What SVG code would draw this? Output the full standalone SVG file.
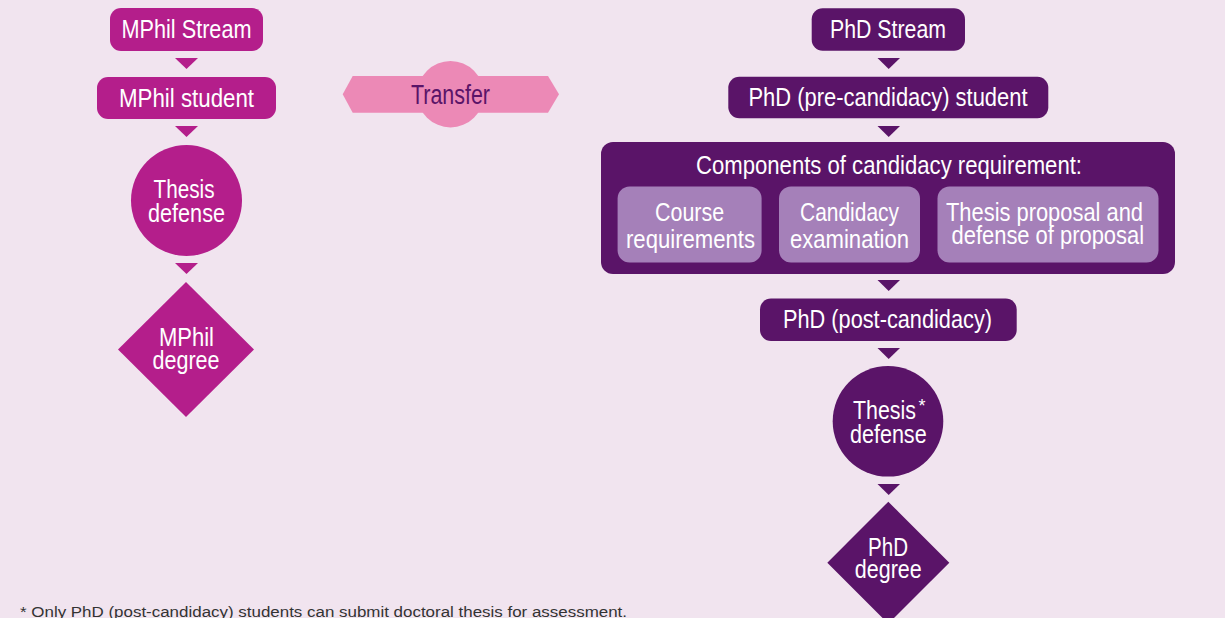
<svg xmlns="http://www.w3.org/2000/svg" width="1225" height="618" viewBox="0 0 1225 618">
  <style>
    .bg { fill: #f1e4ef; }
    .mag { fill: #b41e8b; }
    .pur { fill: #5a1468; }
    .lil { fill: #a580b9; }
    .pink { fill: #ec89b6; }
    text { font-family: "Liberation Sans", Arial, sans-serif; text-anchor: middle; }
    .w { fill: #ffffff; font-size: 25px; }
    .tr { fill: #5a1468; font-size: 27px; }
    .ast { font-size: 18px; }
    .foot { fill: #333333; font-size: 15.5px; text-anchor: start; }
  </style>
  <rect class="bg" x="0" y="0" width="1225" height="618"/>

  <g id="connectors">
    <path class="mag" d="M175,58 L198,58 L186.5,69 Z"/>
    <path class="mag" d="M175,126 L198,126 L186.5,137 Z"/>
    <path class="mag" d="M175,263 L198,263 L186.5,274 Z"/>
    <path class="pur" d="M877.5,58 L900,58 L888.7,69 Z"/>
    <path class="pur" d="M877.5,126 L900,126 L888.7,137 Z"/>
    <path class="pur" d="M877.5,280 L900,280 L888.7,291 Z"/>
    <path class="pur" d="M877.5,348 L900,348 L888.7,359 Z"/>
    <path class="pur" d="M877.5,484 L900,484 L888.7,495 Z"/>
  </g>

  <g id="mphil-stream">
    <rect class="mag" x="110" y="8" width="153" height="43" rx="11"/>
    <text class="w" x="186.5" y="38.3" textLength="130" lengthAdjust="spacingAndGlyphs">MPhil Stream</text>
  </g>
  <g id="mphil-student">
    <rect class="mag" x="97" y="77" width="179" height="42" rx="11"/>
    <text class="w" x="186.5" y="106.5" textLength="135" lengthAdjust="spacingAndGlyphs">MPhil student</text>
  </g>
  <g id="mphil-defense">
    <circle class="mag" cx="186.5" cy="200.5" r="55.5"/>
    <text class="w"><tspan x="184" y="198.3" textLength="61" lengthAdjust="spacingAndGlyphs">Thesis</tspan><tspan x="186.5" y="221.5" textLength="77" lengthAdjust="spacingAndGlyphs">defense</tspan></text>
  </g>
  <g id="mphil-degree">
    <path class="mag" d="M186,282 L254,349.5 L186,417 L118,349.5 Z"/>
    <text class="w"><tspan x="186.5" y="346" textLength="55" lengthAdjust="spacingAndGlyphs">MPhil</tspan><tspan x="186" y="369" textLength="67" lengthAdjust="spacingAndGlyphs">degree</tspan></text>
  </g>

  <g id="transfer">
    <path class="pink" d="M342.7,94.3 L352.7,76 L548,76 L559,94.3 L548,112.7 L352.7,112.7 Z"/>
    <circle class="pink" cx="450.5" cy="94.2" r="33.2"/>
    <text class="tr" x="450.5" y="104.3" textLength="79" lengthAdjust="spacingAndGlyphs">Transfer</text>
  </g>

  <g id="phd-stream">
    <rect class="pur" x="811.7" y="8.3" width="153.3" height="42.4" rx="11"/>
    <text class="w" x="888" y="38.3" textLength="116" lengthAdjust="spacingAndGlyphs">PhD Stream</text>
  </g>
  <g id="phd-pre">
    <rect class="pur" x="728.3" y="76.7" width="320" height="41.6" rx="11"/>
    <text class="w" x="888" y="106" textLength="279" lengthAdjust="spacingAndGlyphs">PhD (pre-candidacy) student</text>
  </g>
  <g id="candidacy">
    <rect class="pur" x="601" y="142" width="574" height="132" rx="12"/>
    <text class="w" x="889" y="174" textLength="386" lengthAdjust="spacingAndGlyphs">Components of candidacy requirement:</text>
    <g id="course">
      <rect class="lil" x="617.6" y="186.5" width="144" height="76" rx="12"/>
      <text class="w"><tspan x="689.6" y="220.7" textLength="69" lengthAdjust="spacingAndGlyphs">Course</tspan><tspan x="690.5" y="248" textLength="129" lengthAdjust="spacingAndGlyphs">requirements</tspan></text>
    </g>
    <g id="exam">
      <rect class="lil" x="779" y="186.5" width="141" height="76" rx="12"/>
      <text class="w"><tspan x="849.5" y="220.7" textLength="99" lengthAdjust="spacingAndGlyphs">Candidacy</tspan><tspan x="849.5" y="248" textLength="119" lengthAdjust="spacingAndGlyphs">examination</tspan></text>
    </g>
    <g id="proposal">
      <rect class="lil" x="937.5" y="186.5" width="221" height="76" rx="12"/>
      <text class="w"><tspan x="1044.5" y="220.7" textLength="197" lengthAdjust="spacingAndGlyphs">Thesis proposal and</tspan><tspan x="1047.8" y="243.5" textLength="192.5" lengthAdjust="spacingAndGlyphs">defense of proposal</tspan></text>
    </g>
  </g>
  <g id="phd-post">
    <rect class="pur" x="760" y="298.5" width="256.7" height="42.5" rx="11"/>
    <text class="w" x="887.5" y="328" textLength="209" lengthAdjust="spacingAndGlyphs">PhD (post-candidacy)</text>
  </g>
  <g id="phd-defense">
    <circle class="pur" cx="888" cy="421.3" r="55.3"/>
    <text class="w"><tspan x="884.5" y="419.3" textLength="63" lengthAdjust="spacingAndGlyphs">Thesis</tspan><tspan class="ast" x="922" y="412">*</tspan><tspan x="888.3" y="442.7" textLength="76.7" lengthAdjust="spacingAndGlyphs">defense</tspan></text>
  </g>
  <g id="phd-degree">
    <path class="pur" d="M888.3,501.7 L949.3,562.7 L888.3,623.7 L827.3,562.7 Z"/>
    <text class="w"><tspan x="888" y="556" textLength="40" lengthAdjust="spacingAndGlyphs">PhD</tspan><tspan x="888.3" y="578" textLength="67" lengthAdjust="spacingAndGlyphs">degree</tspan></text>
  </g>

  <text class="foot" x="20" y="617" textLength="607" lengthAdjust="spacingAndGlyphs">* Only PhD (post-candidacy) students can submit doctoral thesis for assessment.</text>
</svg>
